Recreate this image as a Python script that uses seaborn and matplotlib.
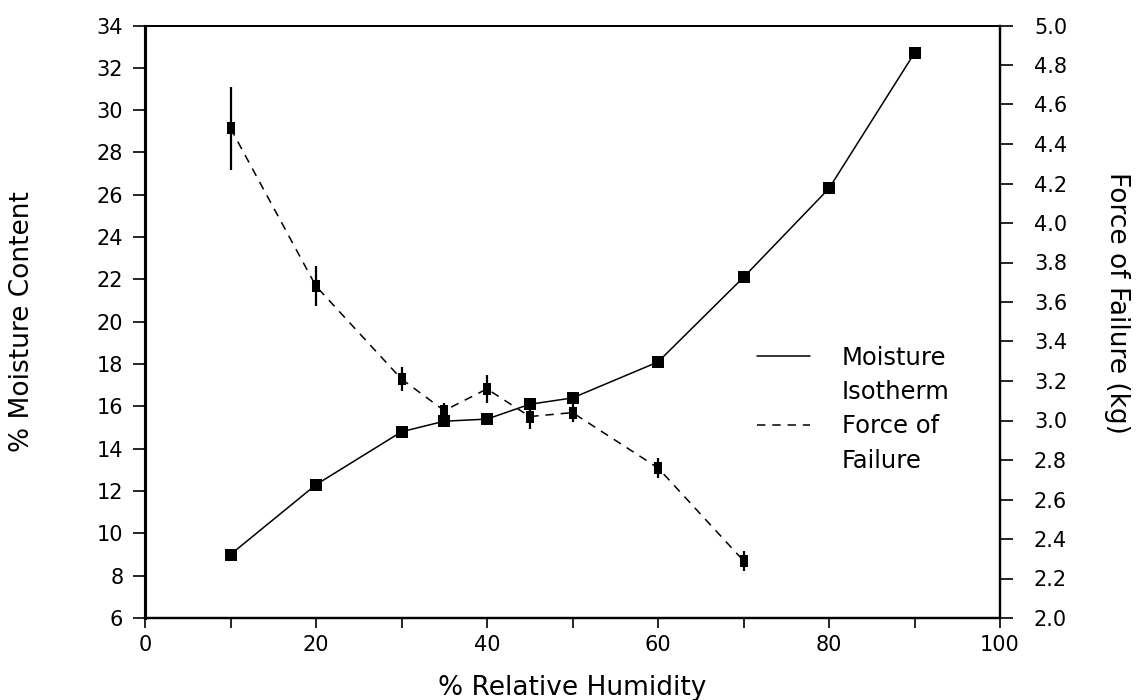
import matplotlib
matplotlib.use("Agg")
import matplotlib.pyplot as plt
from matplotlib.lines import Line2D
from matplotlib.ticker import MultipleLocator, FormatStrFormatter
import seaborn as sns
import pandas as pd
import numpy as np

# ---- data ----
rh_moist = [10, 20, 30, 35, 40, 45, 50, 60, 70, 80, 90]
moisture = [9.0, 12.3, 14.8, 15.3, 15.4, 16.1, 16.4, 18.1, 22.1, 26.3, 32.7]

rh_force = [10, 20, 30, 35, 40, 45, 50, 60, 70]
force = [4.48, 3.68, 3.21, 3.05, 3.16, 3.02, 3.04, 2.76, 2.29]
force_err = [0.21, 0.10, 0.06, 0.04, 0.07, 0.065, 0.05, 0.05, 0.05]

x_label = "% Relative Humidity"
y_left_label = "% Moisture Content"
y_right_label = "Force of Failure (kg)"
legend_labels = ["Moisture", "Isotherm", "Force of", "Failure"]

sns.set_theme(style="white")
plt.rcParams["font.family"] = ["DejaVu Sans"]
for key in ("text.color", "axes.labelcolor", "xtick.color", "ytick.color",
            "axes.edgecolor"):
    plt.rcParams[key] = "black"

df_m = pd.DataFrame({"rh": rh_moist, "mc": moisture})
df_f = pd.DataFrame({"rh": rh_force, "ff": force, "err": force_err})

fig = plt.figure(figsize=(11.37, 7.0), dpi=100)
ax = fig.add_axes([145 / 1137, 1 - 618 / 700, 855 / 1137, 592.5 / 700])
ax2 = ax.twinx()

# moisture isotherm
sns.lineplot(data=df_m, x="rh", y="mc", ax=ax, color="black", lw=1.1,
             marker="s", markersize=8.6, markeredgewidth=0, estimator=None,
             sort=False, legend=False, zorder=3)

# force of failure
rect = [(-0.6, -1), (0.6, -1), (0.6, 1), (-0.6, 1), (-0.6, -1)]
sns.lineplot(data=df_f, x="rh", y="ff", ax=ax2, color="black", lw=1.1,
             linestyle=(0, (5.5, 4.5)), marker=rect, markersize=9,
             markeredgewidth=0, estimator=None, sort=False, legend=False,
             zorder=3)
ax2.errorbar(df_f["rh"], df_f["ff"], yerr=df_f["err"], fmt="none",
             ecolor="black", elinewidth=1.6, capsize=0, zorder=4)

# axes limits / ticks
ax.set_xlim(0, 100)
ax.set_ylim(6, 34)
ax2.set_ylim(2.0, 5.0)

ax.xaxis.set_major_locator(MultipleLocator(20))
ax.xaxis.set_minor_locator(MultipleLocator(10))
ax.yaxis.set_major_locator(MultipleLocator(2))
ax2.yaxis.set_major_locator(MultipleLocator(0.2))
ax2.yaxis.set_major_formatter(FormatStrFormatter("%.1f"))

ax.tick_params(axis="x", which="both", direction="out", length=7.2, width=1.2,
               bottom=True, top=False, labelsize=15, pad=5, color="black")
ax.tick_params(axis="y", which="major", direction="out", length=8.6, width=1.2,
               left=True, right=False, labelsize=15, pad=7, color="black")
ax2.tick_params(axis="y", which="major", direction="out", length=9.4, width=1.2,
                right=True, left=False, labelsize=15, pad=15, color="black")

for a in (ax, ax2):
    for side, lw in {"left": 2.2, "bottom": 1.6, "top": 1.3, "right": 1.6}.items():
        a.spines[side].set_color("black")
        a.spines[side].set_linewidth(lw)
        a.spines[side].set_visible(True)
    a.grid(False)

ax.set_xlabel(x_label, fontsize=19, va="center")
ax.xaxis.set_label_coords(0.5, -0.118)
ax.set_ylabel(y_left_label, fontsize=19, va="center")
ax.yaxis.set_label_coords(-0.144, 0.501)
ax2.set_ylabel(y_right_label, fontsize=19, rotation=270, va="center")
ax2.yaxis.set_label_coords(1.137, 0.532)

# legend
handles = [
    Line2D([], [], color="black", lw=1.1),
    Line2D([], [], color="none"),
    Line2D([], [], color="black", lw=1.1, linestyle=(0, (5.5, 4.5))),
    Line2D([], [], color="none"),
]
leg = ax.legend(handles, legend_labels, loc="upper left",
                bbox_to_anchor=(757 / 1137, 1 - 346 / 700),
                bbox_transform=fig.transFigure, frameon=False, fontsize=17.5,
                handlelength=2.2, handletextpad=1.3, labelspacing=0.42,
                borderpad=0, borderaxespad=0)

fig.savefig("out.png", dpi=100)
